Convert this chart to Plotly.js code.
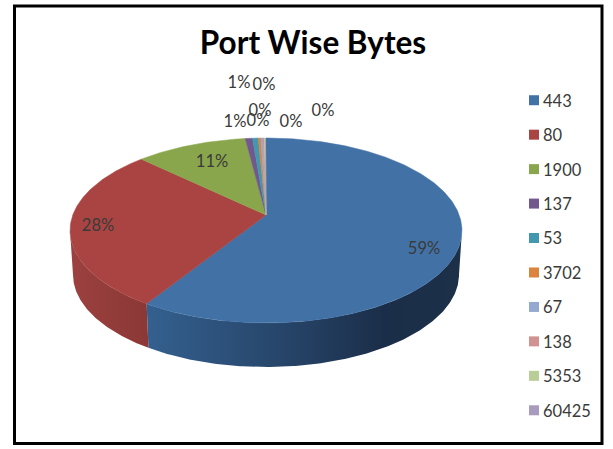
<!DOCTYPE html>
<html><head><meta charset="utf-8">
<script src="https://cdn.plot.ly/plotly-3.0.1.min.js"></script>
<style>html,body{margin:0;padding:0;background:#fff}#c{width:613px;height:449px}</style>
</head><body><div id="c"></div>
<script>
const ports = ['443','80','1900','137','53','3702','67','138','5353','60425'];
const shares = [58.9,28.3,10.8,0.7,0.55,0.25,0.2,0.15,0.1,0.05];
const colors = ['#4271A6','#A94442','#8AA64C','#71588F','#4198AF','#DB843D','#93A9CF','#D19392','#B9CD96','#A99BBD'];

// label placement (pixels in the page), one per port
const labelX = [424,98,212,235,239,258,264,260,291,323];
const labelY = [250,227,163,123,84,122,86,112,123,112];

const title = 'Port Wise Bytes';
const font = 'Lato, Carlito, "Open Sans", sans-serif';

// tilted-disc projection
const cx=266, cy=215, A=193.2, B=89.9, k=0.1676, depth=44, shrink=0.985;
const deg = Math.PI/180;
function topPt(t){const u=Math.sin(t*deg), v=Math.cos(t*deg), w=1+k*v; return [cx+A*u/w, cy-B*v/w];}
function botPt(t){const p=topPt(t); return [cx+(p[0]-cx)*shrink, p[1]+depth];}
function arc(fn,a,b){const n=Math.max(2,Math.ceil(Math.abs(b-a)*2)), o=[]; for(let i=0;i<=n;i++){o.push(fn(a+(b-a)*i/n));} return o;}

const total = shares.reduce((a,b)=>a+b,0);
let acc=0;
const spans = shares.map(s=>{const a=acc/total*360; acc+=s; return [a,acc/total*360];});

const traces=[];
// side walls
const wallStyles = {
  0:{from:99.6,to:212,scale:[[0,'#34608F'],[0.45,'#264468'],[0.75,'#1B2E49'],[1,'#1C3048']]},
  1:{from:212,to:260.4,scale:[[0,'#9C413F'],[1,'#8A3836']]}
};
Object.keys(wallStyles).forEach(i=>{
  const w=wallStyles[i];
  const pts=arc(topPt,w.from,w.to).concat(arc(botPt,w.to,w.from));
  pts.push(pts[0]);
  traces.push({type:'scatter',mode:'lines',x:pts.map(p=>p[0]),y:pts.map(p=>p[1]),fill:'toself',
    line:{width:0},fillcolor:colors[i],
    fillgradient:{type:'horizontal',colorscale:w.scale},
    hoverinfo:'skip',showlegend:false});
});
// top face
ports.forEach((p,i)=>{
  const pts=[[cx,cy]].concat(arc(topPt,spans[i][0],spans[i][1])); pts.push([cx,cy]);
  traces.push({type:'scatter',mode:'lines',x:pts.map(q=>q[0]),y:pts.map(q=>q[1]),fill:'toself',
    line:{width:0.5,color:colors[i]},fillcolor:colors[i],name:p,hoverinfo:'name',showlegend:false});
});
// percentage labels
traces.push({type:'scatter',mode:'text',x:labelX,y:labelY,
  text:shares.map(s=>Math.round(s/total*100)+'%'),textposition:'middle center',
  textfont:{family:font,size:16.5,color:'#3A3A3A'},hoverinfo:'skip',showlegend:false});
// legend keys
ports.forEach((p,i)=>{
  traces.push({type:'scatter',mode:'markers',x:[null],y:[null],name:p,legendgroup:p,
    marker:{symbol:'square',size:10,color:colors[i]}});
});

const layout={
  width:613,height:449,margin:{l:0,r:0,t:0,b:0},
  paper_bgcolor:'#fff',plot_bgcolor:'#fff',
  title:{text:title,x:313/613,y:1-43/449,xanchor:'center',yanchor:'middle',
    font:{family:font,size:31.5,color:'#000',weight:700}},
  xaxis:{range:[0,613],visible:false,fixedrange:true},
  yaxis:{range:[449,0],visible:false,fixedrange:true},
  legend:{x:513/613,y:1-83/449,xanchor:'left',yanchor:'top',tracegroupgap:10,indentation:-10,
    bgcolor:'rgba(0,0,0,0)',font:{family:font,size:16.5,color:'#3A3A3A'}},
  shapes:[{type:'rect',xref:'x',yref:'y',x0:14.5,x1:602,y0:6,y1:443.5,line:{color:'#000',width:3},layer:'above'}]
};
Plotly.newPlot('c',traces,layout,{staticPlot:true,displayModeBar:false}).then(()=>{
  // bring the legend keys next to their labels, as in the reference
  document.querySelectorAll('#c .legend .legendsymbols').forEach(g=>g.setAttribute('transform','translate(11,0)'));
});
</script></body></html>
